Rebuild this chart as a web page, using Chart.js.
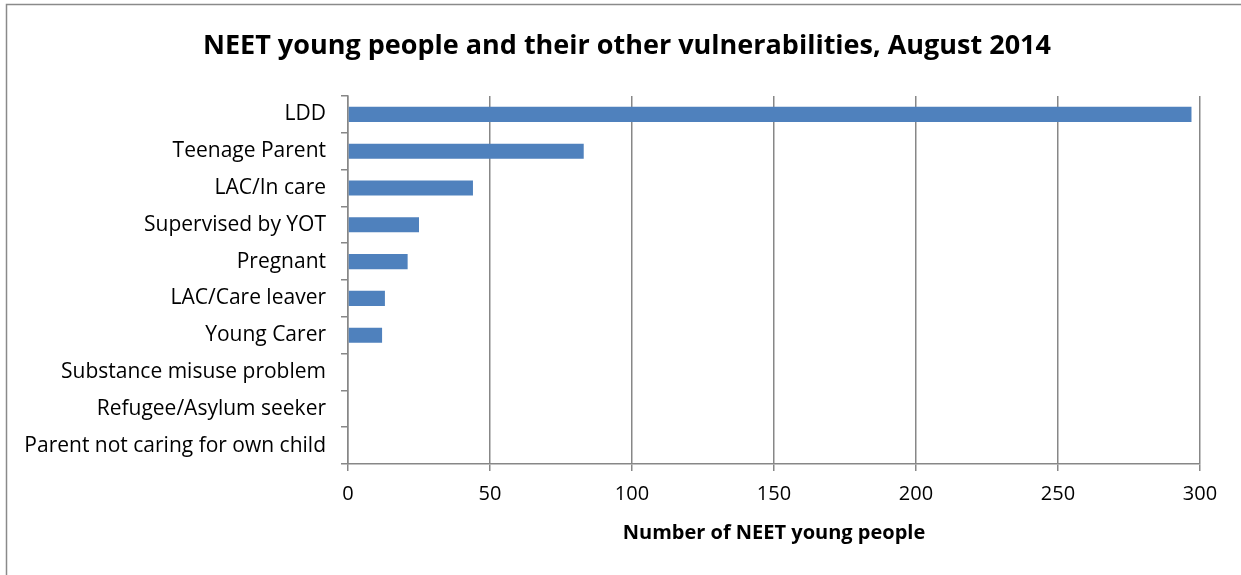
<!DOCTYPE html>
<html>
<head>
<meta charset="utf-8">
<script src="https://cdn.jsdelivr.net/npm/chart.js@4.4.1/dist/chart.umd.min.js"></script>
<style>
    html, body { margin: 0; padding: 0; background: #ffffff; }
    #wrap { width: 1241px; height: 575px; position: relative; }
</style>
</head>
<body>
<div id="wrap"><canvas id="chart"></canvas></div>
<script>
const categories = [
    'LDD',
    'Teenage Parent',
    'LAC/In care',
    'Supervised by YOT',
    'Pregnant',
    'LAC/Care leaver',
    'Young Carer',
    'Substance misuse problem',
    'Refugee/Asylum seeker',
    'Parent not caring for own child'
];
const neetCounts = [297, 83, 44, 25, 21, 13, 12, 0, 0, 0];
const xTicks = [0, 50, 100, 150, 200, 250, 300];

const chartTitle = 'NEET young people and their other vulnerabilities, August 2014';
const axisGray = '#878787';
const fontFamily = "'Open Sans', 'Noto Sans', sans-serif";

// frame line on top and left edge + the title (sits a bit right of centre in the original)
const framePlugin = {
    id: 'frame',
    afterDraw(chart) {
        const ctx = chart.ctx;
        ctx.save();
        ctx.strokeStyle = '#8a8a8a';
        ctx.lineWidth = 1.5;
        ctx.beginPath();
        ctx.moveTo(6.5, 575);
        ctx.lineTo(6.5, 4.5);
        ctx.lineTo(1241, 4.5);
        ctx.stroke();

        ctx.fillStyle = '#000000';
        ctx.font = "bold 27px " + fontFamily;
        ctx.textAlign = 'center';
        ctx.textBaseline = 'middle';
        ctx.fillText(chartTitle, 627, 46);
        ctx.restore();
    }
};

new Chart(document.getElementById('chart'), {
    type: 'bar',
    data: {
        labels: categories,
        datasets: [{
            data: neetCounts,
            backgroundColor: '#4f81bd',
            barPercentage: 0.41,
            categoryPercentage: 1.0
        }]
    },
    options: {
        indexAxis: 'y',
        responsive: true,
        maintainAspectRatio: false,
        animation: false,
        layout: {
            padding: { left: 0, right: 41, top: 96, bottom: 30 }
        },
        plugins: {
            legend: { display: false },
            tooltip: { enabled: false },
            title: { display: false }
        },
        scales: {
            x: {
                min: 0,
                max: 300,
                afterBuildTicks(scale) {
                    scale.ticks = xTicks.map(v => ({ value: v }));
                },
                grid: {
                    color: axisGray,
                    lineWidth: 1.5,
                    tickLength: 7,
                    drawTicks: true
                },
                border: { color: axisGray, width: 1.5 },
                ticks: {
                    color: '#000000',
                    padding: 11,
                    font: { family: fontFamily, size: 20 }
                },
                title: {
                    display: true,
                    text: 'Number of NEET young people',
                    color: '#000000',
                    font: { family: fontFamily, size: 20, weight: 'bold' },
                    padding: { top: 4, bottom: 0 }
                }
            },
            y: {
                afterFit(scale) {
                    scale.width = 348;
                },
                grid: {
                    offset: true,
                    drawOnChartArea: false,
                    color: axisGray,
                    lineWidth: 1.5,
                    tickLength: 7
                },
                border: { color: axisGray, width: 1.5 },
                ticks: {
                    color: '#000000',
                    padding: 15,
                    autoSkip: false,
                    font: { family: fontFamily, size: 21 }
                }
            }
        }
    },
    plugins: [framePlugin]
});
</script>
</body>
</html>
